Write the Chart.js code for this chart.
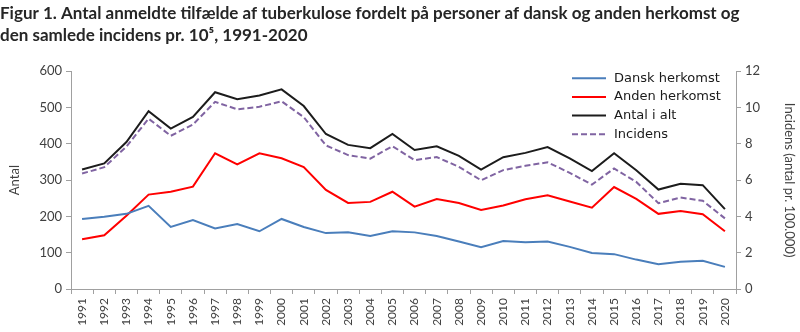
<!DOCTYPE html>
<html>
<head>
<meta charset="utf-8">
<script src="https://cdn.jsdelivr.net/npm/chart.js@4"></script>
<style>
  html, body { margin: 0; padding: 0; background: #fff; }
  #wrap { width: 800px; height: 332px; }
</style>
</head>
<body>
<div id="wrap"><canvas id="chart" width="800" height="332"></canvas></div>
<script>
const years = ['1991','1992','1993','1994','1995','1996','1997','1998','1999','2000',
  '2001','2002','2003','2004','2005','2006','2007','2008','2009','2010',
  '2011','2012','2013','2014','2015','2016','2017','2018','2019','2020'];

const danskHerkomst = [193, 199, 207, 229, 171, 190, 167, 179, 159, 193,
  171, 154, 156, 146, 159, 156, 146, 131, 115, 132,
  129, 131, 116, 99, 96, 81, 68, 75, 78, 61];

const andenHerkomst = [137, 148, 202, 260, 268, 282, 374, 343, 374, 360,
  336, 273, 237, 240, 268, 227, 248, 237, 218, 230,
  247, 258, 241, 224, 281, 248, 207, 215, 206, 159];

const antalIAlt = [329, 346, 405, 490, 442, 474, 542, 523, 533, 550,
  504, 427, 397, 388, 427, 383, 393, 367, 329, 363,
  375, 391, 360, 325, 374, 327, 274, 290, 286, 220];

const incidens = [6.36, 6.71, 7.85, 9.38, 8.44, 9.06, 10.31, 9.90, 10.04, 10.34,
  9.47, 7.91, 7.38, 7.18, 7.87, 7.10, 7.27, 6.73, 5.99, 6.55,
  6.79, 6.98, 6.40, 5.75, 6.64, 5.90, 4.73, 5.04, 4.86, 3.89];

const leftTicks = [0, 100, 200, 300, 400, 500, 600];
const rightTicks = [0, 2, 4, 6, 8, 10, 12];

const fontFamily = 'Lato, "Open Sans", sans-serif';
const legendFont = '"DejaVu Sans", sans-serif';
const axisColor = '#a0a0a0';
const textColor = '#404040';

// legend drawn inside the plot area, top right
const innerLegend = {
    id: 'innerLegend',
    afterDraw(chart) {
        const ctx = chart.ctx;
        const area = chart.chartArea;
        const x0 = area.right - 164;
        let y = area.top + 7;
        ctx.save();
        ctx.font = '13px ' + legendFont;
        ctx.textBaseline = 'middle';
        chart.data.datasets.forEach(ds => {
            ctx.beginPath();
            ctx.strokeStyle = ds.borderColor;
            ctx.lineWidth = 2;
            ctx.setLineDash(ds.borderDash || []);
            ctx.moveTo(x0, y);
            ctx.lineTo(x0 + 34, y);
            ctx.stroke();
            ctx.setLineDash([]);
            ctx.fillStyle = '#1a1a1a';
            ctx.fillText(ds.label, x0 + 42, y);
            y += 18.7;
        });
        ctx.restore();
    }
};

const ctx = document.getElementById('chart').getContext('2d');
new Chart(ctx, {
    type: 'line',
    data: {
        labels: years,
        datasets: [{
            label: 'Dansk herkomst',
            data: danskHerkomst,
            borderColor: '#4a7ebb',
            yAxisID: 'y'
        }, {
            label: 'Anden herkomst',
            data: andenHerkomst,
            borderColor: '#ff0000',
            yAxisID: 'y'
        }, {
            label: 'Antal i alt',
            data: antalIAlt,
            borderColor: '#1c1c1c',
            yAxisID: 'y'
        }, {
            label: 'Incidens',
            data: incidens,
            borderColor: '#8064a2',
            borderDash: [6, 3],
            yAxisID: 'y2'
        }]
    },
    options: {
        responsive: false,
        animation: false,
        layout: { padding: { left: 0, right: 0, top: 0, bottom: 0 } },
        elements: {
            point: { radius: 0 },
            line: { borderWidth: 2, tension: 0 }
        },
        plugins: {
            legend: { display: false },
            tooltip: { enabled: false },
            title: {
                display: true,
                text: ['Figur 1. Antal anmeldte tilfælde af tuberkulose fordelt på personer af dansk og anden herkomst og',
                       'den samlede incidens pr. 10\u2075, 1991-2020'],
                align: 'start',
                color: '#262626',
                font: { family: fontFamily, size: 17, weight: 'bold', lineHeight: 1.3 },
                padding: { top: 2, bottom: 25 }
            }
        },
        scales: {
            x: {
                type: 'category',
                offset: true,
                border: { color: axisColor },
                grid: { display: true, offset: true, drawOnChartArea: false, tickLength: 5, color: axisColor },
                ticks: {
                    minRotation: 90, maxRotation: 90, autoSkip: false,
                    color: textColor, font: { family: fontFamily, size: 12 }, padding: 4
                },
                afterFit(scale) { scale.height = 43; }
            },
            y: {
                position: 'left',
                min: 0, max: 600,
                afterBuildTicks(scale) { scale.ticks = leftTicks.map(v => ({ value: v })); },
                border: { color: axisColor },
                grid: { drawOnChartArea: false, tickLength: 5, color: axisColor },
                ticks: { color: textColor, font: { family: fontFamily, size: 13 }, padding: 4 },
                title: { display: true, text: 'Antal', color: textColor, font: { family: fontFamily, size: 13 }, padding: { top: 7, bottom: 0 } },
                afterFit(scale) { scale.width = 71; }
            },
            y2: {
                position: 'right',
                min: 0, max: 12,
                afterBuildTicks(scale) { scale.ticks = rightTicks.map(v => ({ value: v })); },
                border: { color: axisColor },
                grid: { drawOnChartArea: false, tickLength: 5, color: axisColor },
                ticks: { color: textColor, font: { family: fontFamily, size: 13 }, padding: 4 },
                title: { display: true, text: 'Incidens (antal pr. 100.000)', color: textColor, font: { family: fontFamily, size: 13 }, padding: { top: 3, bottom: 0 } },
                afterFit(scale) { scale.width = 64; }
            }
        }
    },
    plugins: [innerLegend]
});
</script>
</body>
</html>
